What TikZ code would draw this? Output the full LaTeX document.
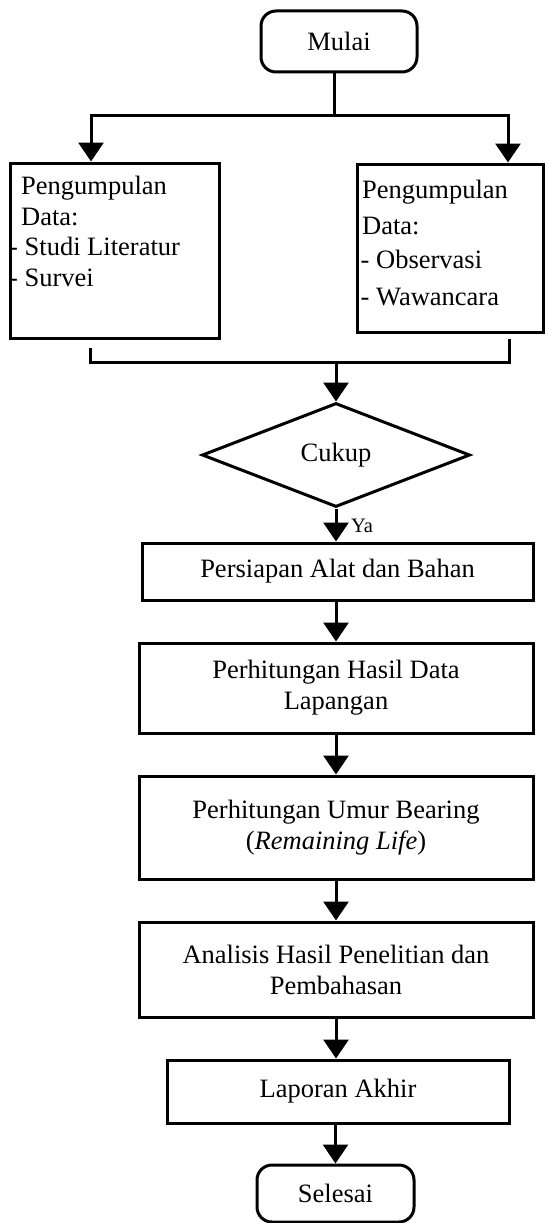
\documentclass[tikz,border=0pt]{standalone}
\usepackage{fontspec}
\setmainfont{Liberation Serif}
\usetikzlibrary{arrows.meta,shapes.geometric}
\newcommand{\flowfont}{\fontsize{26.5}{31}\selectfont}
\newcommand{\yafont}{\fontsize{20.5}{23}\selectfont}
\begin{document}
\begin{tikzpicture}[x=1pt,y=-1pt,
  lw/.style={line width=3pt},
  arr/.style={lw,-{Triangle[width=25pt,length=19pt]}},
  box/.style={draw,lw,inner sep=0pt,align=center,font=\flowfont},
  term/.style={box,rounded corners=15pt},
  txt/.style={inner sep=0pt,anchor=base west,font=\flowfont},
  decision/.style={draw,lw,diamond,inner sep=0pt,font=\flowfont}]
\useasboundingbox (0,0) rectangle (545,1223);

% nodes
\node[term,minimum width=156pt,minimum height=61pt] (mulai) at (339,41.5) {Mulai};
\node[box,minimum width=209pt,minimum height=175pt] (lbox) at (114.5,250.5) {};
\node[box,minimum width=186pt,minimum height=168pt] (rbox) at (450,248) {};
\node[decision,minimum width=268pt,minimum height=104pt] (dia) at (336,455) {Cukup};
\node[box,minimum width=391pt,minimum height=57pt] (persiapan) at (337.5,571.5) {Persiapan Alat dan Bahan};
\node[box,minimum width=394pt,minimum height=90pt] (hasil) at (336,688) {Perhitungan Hasil Data\\Lapangan};
\node[box,minimum width=394pt,minimum height=103pt] (umur) at (336,827.5) {Perhitungan Umur Bearing\\(\textit{Remaining Life})};
\node[box,minimum width=394pt,minimum height=95pt] (analisis) at (336,969.5) {Analisis Hasil Penelitian dan\\Pembahasan};
\node[box,minimum width=342pt,minimum height=63pt] (laporan) at (338,1091.5) {\raisebox{3pt}{Laporan Akhir}};
\node[term,minimum width=157pt,minimum height=57pt] (selesai) at (335.5,1193.5) {Selesai};

% box texts
\node[txt] (lt1) at (21,194) {Pengumpulan};
\node[txt] (lt2) at (21,225) {Data:};
\node[txt] (lt3) at (9,255) {- Studi Literatur};
\node[txt] (lt4) at (9,286) {- Survei};
\node[txt] (rt1) at (362,198) {Pengumpulan};
\node[txt] (rt2) at (362,234) {Data:};
\node[txt] (rt3) at (360.5,268) {- Observasi};
\node[txt] (rt4) at (360.5,305) {- Wawancara};

% top split
\coordinate (jT) at (334,115);
\coordinate (jL) at (91,115);
\coordinate (jR) at (508,115);
\draw[lw] (mulai.south -| jT) -- (jT);
\draw[arr] (jT) -| (jL |- lbox.north);
\draw[arr] (jT) -| (jR |- rbox.north);

% bottom bracket
\coordinate (bL) at (90,348);
\coordinate (bR) at (509,339);
\coordinate (bC) at (336,362);
\draw[lw] (bL) -- (bL |- bC) -- (bR |- bC) -- (bR);
\draw[arr] (bC) -- (dia.north);

% main chain
\draw[arr] (dia.south) -- (dia.south |- persiapan.north);
\node[inner sep=0pt,anchor=west,font=\yafont] (ya) at (351,526) {Ya};
\draw[arr] (persiapan.south -| hasil.north) -- (hasil.north);
\draw[arr] (hasil.south) -- (umur.north);
\draw[arr] (umur.south) -- (analisis.north);
\draw[arr] (analisis.south) -- (analisis.south |- laporan.north);
\draw[arr] (laporan.south -| selesai.north) -- (selesai.north);
\end{tikzpicture}
\end{document}
